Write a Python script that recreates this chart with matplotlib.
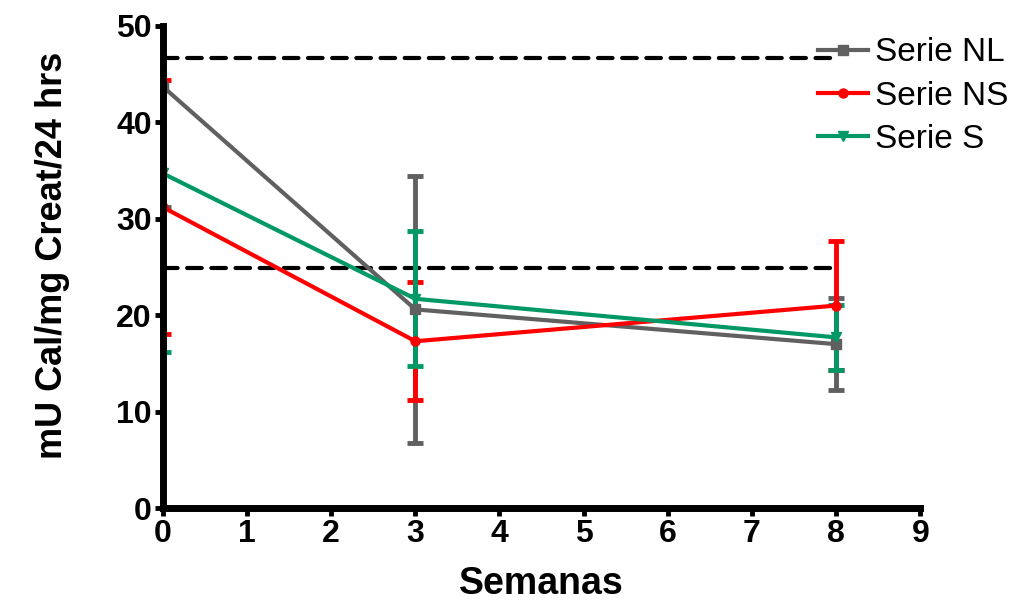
import matplotlib
matplotlib.use("Agg")
import matplotlib.pyplot as plt
from matplotlib.lines import Line2D

plt.rcParams['font.family'] = ['Liberation Sans', 'DejaVu Sans']

weeks = [0, 3, 8]
nl_mean = [43.7, 20.6, 17.0]
nl_err = [12.5, 13.8, 4.8]
ns_mean = [31.2, 17.3, 21.0]
ns_err = [13.2, 6.1, 6.7]
s_mean = [34.7, 21.7, 17.7]
s_err = [18.5, 7.0, 3.4]
ref_high = 46.7
ref_low = 24.9

series = [
    ("Serie NL", nl_mean, nl_err, "#606060", "s"),
    ("Serie NS", ns_mean, ns_err, "#ff0000", "o"),
    ("Serie S", s_mean, s_err, "#009966", "v"),
]

fig = plt.figure(figsize=(10.18, 6.02), dpi=100)
ax = fig.add_axes([0.160, 0.156, 0.744, 0.801])

dash = (0, (3.5, 2.3))
ax.plot([0, 8], [ref_high, ref_high], ls=dash, color="black", lw=3,
        dash_capstyle="round", zorder=1)
ax.plot([0, 8], [ref_low, ref_low], ls=dash, color="black", lw=3,
        dash_capstyle="round", zorder=1)

handles = []
for label, mean, err, color, marker in series:
    ax.errorbar(weeks, mean, yerr=err, color=color, lw=3, marker=marker,
                markersize=6.5, capsize=5.5, capthick=3.5, elinewidth=3.5,
                zorder=3)
    handles.append(Line2D([], [], color=color, lw=3, marker=marker,
                          markersize=6.5, label=label))

ax.set_xlim(0, 9)
ax.set_ylim(0, 50)
ax.set_xticks(range(0, 10))
ax.set_yticks(range(0, 51, 10))

for side in ("top", "right"):
    ax.spines[side].set_visible(False)
for side in ("left", "bottom"):
    ax.spines[side].set_linewidth(5)
    ax.spines[side].set_zorder(5)

ax.tick_params(axis="both", width=3.5, length=6, direction="out",
               labelsize=23, pad=2)
for t in ax.get_xticklabels() + ax.get_yticklabels():
    t.set_fontweight("bold")

ax.set_xlabel("Semanas", fontsize=27, fontweight="bold", labelpad=12)
ax.set_ylabel("mU Cal/mg Creat/24 hrs", fontsize=26, fontweight="bold")
ax.yaxis.set_label_coords(-0.123, 0.525)

fig.legend(handles=handles, loc="upper left", bbox_to_anchor=(0.8035, 0.938),
           frameon=False, fontsize=24, handlelength=1.5, handletextpad=0.2,
           labelspacing=0.37, borderpad=0, borderaxespad=0)

fig.savefig("out.png", dpi=100)
